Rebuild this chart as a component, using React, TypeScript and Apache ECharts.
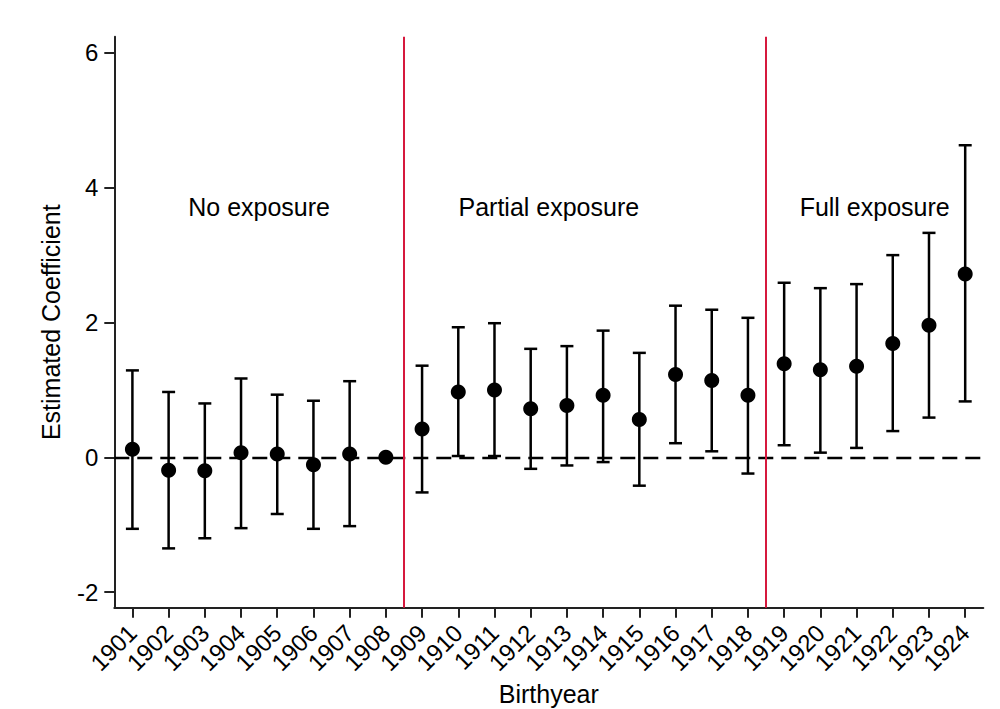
import React, { useEffect, useRef } from "react";
import * as echarts from "echarts";

const years = [1901, 1902, 1903, 1904, 1905, 1906, 1907, 1908, 1909, 1910, 1911, 1912, 1913, 1914, 1915, 1916, 1917, 1918, 1919, 1920, 1921, 1922, 1923, 1924];
const coef = [0.12, -0.19, -0.2, 0.07, 0.05, -0.11, 0.05, 0, 0.42, 0.97, 1.0, 0.72, 0.77, 0.92, 0.56, 1.23, 1.14, 0.92, 1.39, 1.3, 1.35, 1.69, 1.96, 2.72];
const upper = [1.29, 0.97, 0.8, 1.17, 0.93, 0.84, 1.13, null, 1.36, 1.93, 1.99, 1.61, 1.65, 1.88, 1.55, 2.25, 2.19, 2.07, 2.59, 2.51, 2.57, 3.0, 3.33, 4.63];
const lower = [-1.06, -1.35, -1.2, -1.05, -0.84, -1.06, -1.02, null, -0.52, 0.02, 0.02, -0.17, -0.12, -0.07, -0.42, 0.21, 0.09, -0.24, 0.18, 0.07, 0.14, 0.39, 0.59, 0.83];
const yTicks = [-2, 0, 2, 4, 6];
const regionNames = ["No exposure", "Partial exposure", "Full exposure"];
const regionX = [1904.5, 1912.5, 1921.5];
const regionY = [3.71, 3.71, 3.71];
const cutoffs = [1908.5, 1918.5];

const FONT = "'Liberation Sans', Arial, sans-serif";

export default function App() {
  const ref = useRef<HTMLDivElement>(null);
  useEffect(() => {
    if (!ref.current) return;
    const chart = echarts.init(ref.current, undefined, { renderer: "svg" });
    const errData = years
      .map((y, i) => [y, lower[i], upper[i]])
      .filter((d) => d[1] !== null && d[2] !== null);
    const option: any = {
      animation: false,
      backgroundColor: "#fff",
      textStyle: { fontFamily: FONT },
      grid: { left: 114.3, right: 16.7, top: 36.7, bottom: 101.3, containLabel: false, outerBoundsMode: "none" },
      xAxis: {
        type: "value",
        min: 1900.5,
        max: 1924.5,
        name: "Birthyear",
        nameLocation: "middle",
        nameGap: 72,
        nameTextStyle: { fontSize: 25, color: "#000", fontFamily: FONT },
        splitLine: { show: false },
        axisLine: { show: true, onZero: false, lineStyle: { color: "#222", width: 2 } },
        axisTick: { show: true, length: 10, customValues: years, lineStyle: { color: "#222", width: 2 } },
        axisLabel: {
          customValues: years,
          rotate: 45,
          fontSize: 24,
          margin: 21,
          color: "#000",
          fontFamily: FONT,
          formatter: (v: number) => String(v),
        },
      },
      yAxis: {
        type: "value",
        min: -2.23,
        max: 6.24,
        name: "Estimated Coefficient",
        nameLocation: "middle",
        nameGap: 51,
        nameTextStyle: { fontSize: 25, color: "#000", fontFamily: FONT },
        splitLine: { show: false },
        axisLine: { show: true, lineStyle: { color: "#222", width: 2 } },
        axisTick: { show: true, length: 10, customValues: yTicks, lineStyle: { color: "#222", width: 2 } },
        axisLabel: {
          customValues: yTicks,
          fontSize: 24,
          margin: 16,
          color: "#000",
          fontFamily: FONT,
          formatter: (v: number) => String(v),
        },
      },
      series: [
        {
          type: "scatter",
          name: "lines",
          data: [],
          silent: true,
          markLine: {
            silent: true,
            symbol: "none",
            label: { show: false },
            data: [
              { yAxis: 0, lineStyle: { color: "#000", width: 2.3, type: [15, 8], opacity: 1 } },
              ...cutoffs.map((c) => ({ xAxis: c, lineStyle: { color: "#d6193e", width: 2, type: "solid", opacity: 1 } })),
            ],
          },
        },
        {
          type: "custom",
          name: "ci",
          data: errData,
          silent: true,
          renderItem: (params: any, api: any) => {
            const x = api.value(0);
            const lo = api.coord([x, api.value(1)]);
            const hi = api.coord([x, api.value(2)]);
            const half = 6.5;
            const st = { stroke: "#000", lineWidth: 2.5 };
            return {
              type: "group",
              children: [
                { type: "line", shape: { x1: lo[0], y1: lo[1], x2: hi[0], y2: hi[1] }, style: st },
                { type: "line", shape: { x1: lo[0] - half, y1: lo[1], x2: lo[0] + half, y2: lo[1] }, style: st },
                { type: "line", shape: { x1: hi[0] - half, y1: hi[1], x2: hi[0] + half, y2: hi[1] }, style: st },
              ],
            };
          },
        },
        {
          type: "scatter",
          name: "coef",
          data: years.map((y, i) => [y, coef[i]]),
          symbol: "circle",
          symbolSize: 15,
          itemStyle: { color: "#000", opacity: 1 },
          silent: true,
        },
        {
          type: "scatter",
          name: "regions",
          data: regionX.map((x, i) => [x, regionY[i]]),
          symbolSize: 0,
          silent: true,
          itemStyle: { opacity: 1 },
          label: {
            show: true,
            position: "inside",
            fontSize: 25,
            color: "#000",
            opacity: 1,
            fontFamily: FONT,
            formatter: (p: any) => regionNames[p.dataIndex],
          },
        },
      ],
    };
    chart.setOption(option);
    return () => chart.dispose();
  }, []);
  return (
    <div
      ref={ref}
      style={{ position: "fixed", left: 0, top: 0, width: 1000, height: 709, background: "#fff" }}
    />
  );
}
